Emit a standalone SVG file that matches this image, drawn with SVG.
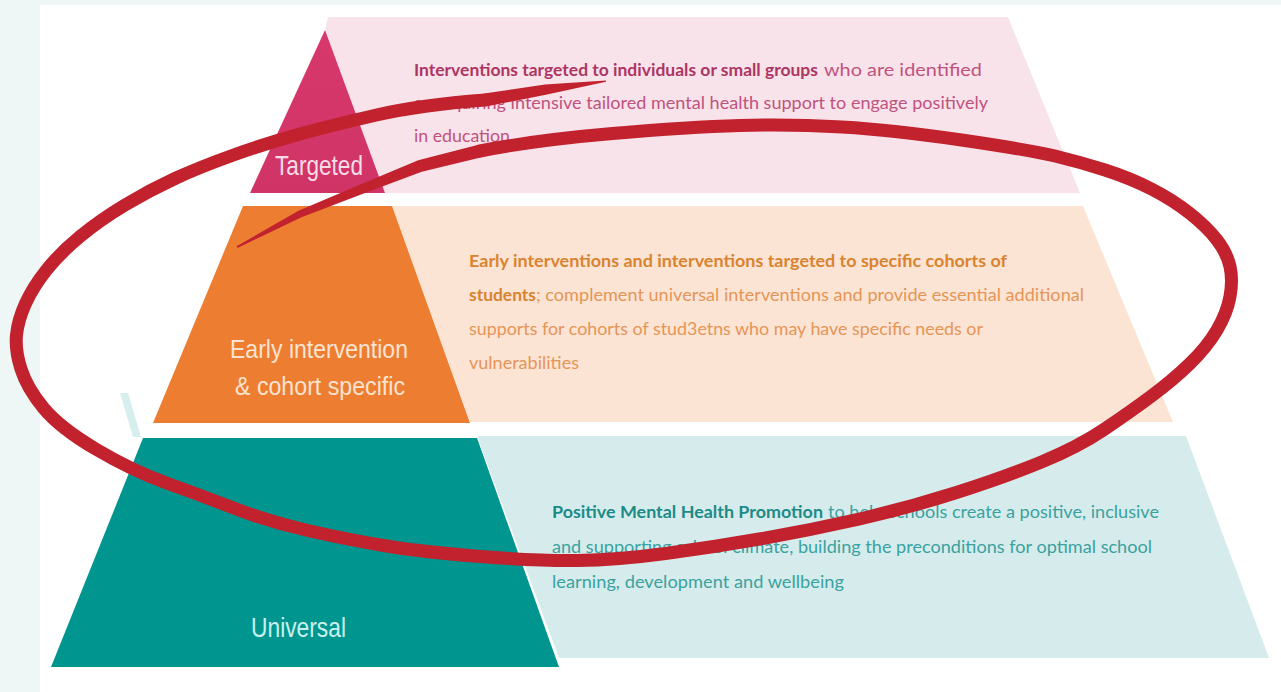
<svg xmlns="http://www.w3.org/2000/svg" width="1281" height="692" viewBox="0 0 1281 692">
<defs>
<style>
.lbl{font-family:"Liberation Sans Narrow","Liberation Sans",Arial,sans-serif;}
.d{font-family:Lato,"Open Sans","Liberation Sans",sans-serif;font-size:17.5px;}
.b{font-weight:bold;}
.pk{fill:#c0527e;} .pkb{fill:#ad3563;}
.or{fill:#e59556;} .orb{fill:#d9832f;}
.tl{fill:#3aa29f;} .tlb{fill:#1c8b88;}
.red{fill:none;stroke:#c1222e;stroke-linecap:round;stroke-linejoin:round;}
.redf{fill:#c1222e;}
</style>
<linearGradient id="gPink" x1="0" y1="0" x2="0" y2="1">
<stop offset="0" stop-color="#d8386c"/><stop offset="1" stop-color="#d03466"/>
</linearGradient>
</defs>
<rect x="0" y="0" width="1281" height="692" fill="#eef7f5"/>
<rect x="40" y="5" width="1241" height="687" fill="#ffffff"/>

<g id="node-targeted">
<polygon points="328,17 1008,17 1080,193 385,193 325,30" fill="#f9e3ea"/>
<polygon points="325,30 385,193 250,193" fill="url(#gPink)"/>
<text class="lbl" x="275" y="175" font-size="28" fill="#f8dde8" textLength="88" lengthAdjust="spacingAndGlyphs">Targeted</text>
<text class="d b pkb" x="414" y="76" textLength="404" lengthAdjust="spacingAndGlyphs">Interventions targeted to individuals or small groups</text>
<text class="d pk" x="824" y="76" textLength="158" lengthAdjust="spacingAndGlyphs">who are identified</text>
<text class="d pk" x="414" y="109" textLength="574" lengthAdjust="spacingAndGlyphs">as requiring intensive tailored mental health support to engage positively</text>
<text class="d pk" x="414" y="142" textLength="96" lengthAdjust="spacingAndGlyphs">in education</text>
</g>

<g id="node-early">
<polygon points="392,206 1083,206 1173,422 470,422" fill="#fce4d5"/>
<polygon points="243,206 392,206 470,423 153,423" fill="#ed7d31"/>
<text class="lbl" x="230" y="358" font-size="25" fill="#fbe3d0" textLength="178" lengthAdjust="spacingAndGlyphs">Early intervention</text>
<text class="lbl" x="235" y="395" font-size="25" fill="#fbe3d0" textLength="170" lengthAdjust="spacingAndGlyphs">&amp; cohort specific</text>
<text class="d b orb" x="469" y="267" textLength="538" lengthAdjust="spacingAndGlyphs">Early interventions and interventions targeted to specific cohorts of</text>
<text class="d b orb" x="469" y="301" textLength="67" lengthAdjust="spacingAndGlyphs">students</text>
<text class="d or" x="536" y="301" textLength="548" lengthAdjust="spacingAndGlyphs">; complement universal interventions and provide essential additional</text>
<text class="d or" x="469" y="335" textLength="514" lengthAdjust="spacingAndGlyphs">supports for cohorts of stud3etns who may have specific needs or</text>
<text class="d or" x="469" y="369" textLength="110" lengthAdjust="spacingAndGlyphs">vulnerabilities</text>
</g>

<g id="node-universal">
<polygon points="120,393 128,393 141,437 133,437" fill="#d7eeee"/>
<polygon points="477,436 1186,436 1269,658 559,658" fill="#d6ecec"/>
<polygon points="143,438 477,438 559,667 51,667" fill="#00968f"/>
<text class="lbl" x="251" y="637" font-size="28" fill="#c9f0ee" textLength="95" lengthAdjust="spacingAndGlyphs">Universal</text>
<text class="d b tlb" x="552" y="518" textLength="271" lengthAdjust="spacingAndGlyphs">Positive Mental Health Promotion</text>
<text class="d tl" x="828" y="518" textLength="331" lengthAdjust="spacingAndGlyphs">to help schools create a positive, inclusive</text>
<text class="d tl" x="552" y="553" textLength="600" lengthAdjust="spacingAndGlyphs">and supporting school climate, building the preconditions for optimal school</text>
<text class="d tl" x="552" y="588" textLength="292" lengthAdjust="spacingAndGlyphs">learning, development and wellbeing</text>
</g>

<g id="annotation">
<path class="red" stroke-width="13" d="M485,100 Q420,105 376.5,115 Q333,125 300,134 Q267,143 233.5,155 Q200,167 175,178.5 Q150,190 125,205 Q100,220 80,236.5 Q60,253 46.5,270 Q33,287 25.5,303.5 Q18,320 16.5,335 Q15,350 21,369 Q27,388 43.5,408 Q60,428 96.5,449.5 Q133,471 166.5,483 Q200,495 235,508.5 Q270,522 310,531 Q350,540 386.5,546 Q423,552 480.5,556.5 Q538,561 577.5,560.5 Q617,560 665.5,553.5 Q714,547 762.5,538.5 Q811,530 859.5,519 Q908,508 956.5,492.5 Q1005,477 1041.5,462 Q1078,447 1104,429.5 Q1130,412 1151.5,396 Q1173,380 1190,363.5 Q1207,347 1217,330 Q1227,313 1230,296.5 Q1233,280 1230,266.5 Q1227,253 1217,240 Q1207,227 1190,213.5 Q1173,200 1151.5,189 Q1130,178 1105,170 Q1080,162 1055,156 Q1030,150 961.5,140 Q893,130 842,127 Q791,124 740,125.5 Q689,127 612.5,133.5 Q536,140 480,151"/>
<polygon class="redf" points="484,93.5 545,84.5 606,80.5 606,81.8 547,94.5 486,106.5"/>
<polygon class="redf" points="478.4,144.7 418.2,160.3 365.1,182.4 298.5,210.8 236.6,246.3 237.4,247.9 301.5,217.2 368.9,191.6 421.8,171.7 481.6,157.3"/>
</g>
</svg>
